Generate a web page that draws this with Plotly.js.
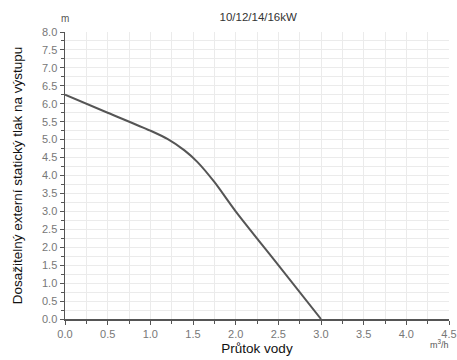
<!DOCTYPE html>
<html><head><meta charset="utf-8">
<script src="https://cdn.plot.ly/plotly-3.0.1.min.js"></script>
<style>html,body{margin:0;padding:0;background:#fff}#c{width:457px;height:360px}</style>
</head><body><div id="c"></div>
<script>
const flow = [0.0, 0.5, 1.0, 1.2, 1.4, 1.55, 1.75, 2.0, 2.5, 3.0];
const pressure = [6.25, 5.75, 5.25, 5.02, 4.7, 4.38, 3.82, 3.0, 1.5, 0.0];
const chartTitle = "10/12/14/16kW";
const xTitle = "Průtok vody";
const yTitle = "Dosažitelný externí statický tlak na výstupu";

const gridC = "#ebebeb";
const tickFont = {family: "Arial, Liberation Sans, sans-serif", size: 11, color: "#777"};
Plotly.newPlot("c", [{
  x: flow, y: pressure, type: "scatter", mode: "lines",
  line: {color: "#555", width: 2, shape: "spline", smoothing: 0.8},
  hoverinfo: "skip"
}], {
  width: 457, height: 360,
  margin: {l: 65, r: 8, t: 32, b: 41},
  paper_bgcolor: "#fff", plot_bgcolor: "#fff",
  showlegend: false,
  font: {family: "Arial, Liberation Sans, sans-serif"},
  title: {text: chartTitle, x: 0.565, xanchor: "center", y: 0.952, yanchor: "middle",
    font: {size: 11.5, color: "#333"}},
  xaxis: {
    range: [0, 4.5], dtick: 0.5, tick0: 0, tickformat: ".1f",
    showgrid: true, gridcolor: gridC, gridwidth: 1,
    zeroline: false, showline: true, linecolor: "#555", linewidth: 1.5,
    ticks: "outside", ticklen: 4, tickcolor: "#555", tickwidth: 1,
    tickfont: tickFont,
    minor: {dtick: 0.25, showgrid: true, gridcolor: gridC, ticks: "outside", ticklen: 3, tickcolor: "#555"},
    title: {text: xTitle, standoff: 5, font: {size: 13.5, color: "#111"}},
    fixedrange: true
  },
  yaxis: {
    range: [0, 8], dtick: 0.5, tick0: 0, tickformat: ".1f",
    showgrid: true, gridcolor: gridC, gridwidth: 1,
    zeroline: false, showline: true, linecolor: "#555", linewidth: 1.5,
    ticks: "outside", ticklen: 4, tickcolor: "#555", tickwidth: 1,
    tickfont: tickFont,
    minor: {dtick: 0.25, showgrid: true, gridcolor: gridC, ticks: "outside", ticklen: 3, tickcolor: "#555"},
    title: {text: yTitle, standoff: 16, font: {size: 13.5, color: "#111"}},
    fixedrange: true
  },
  annotations: [
    {text: "m", xref: "paper", yref: "paper", x: 0, y: 1, xanchor: "center", yanchor: "bottom",
     yshift: 6, showarrow: false, font: {size: 10, color: "#555"}},
    {text: "m<sup>3</sup>/h", xref: "paper", yref: "paper", x: 1, y: 0, xanchor: "right", yanchor: "top",
     xshift: 2, yshift: -17, showarrow: false, font: {size: 9, color: "#555"}}
  ]
}, {displayModeBar: false, staticPlot: true});
</script></body></html>
